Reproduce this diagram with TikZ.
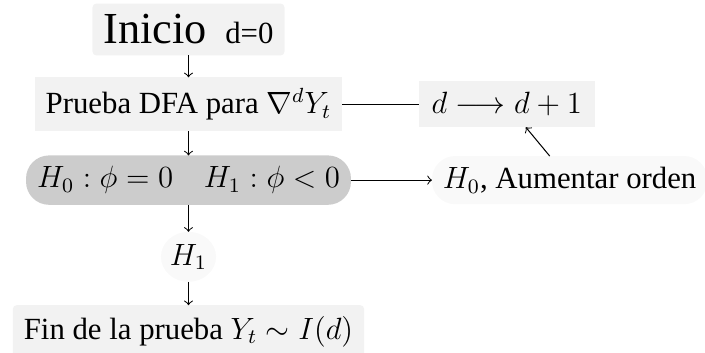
\documentclass[12pt,tikz,border=0pt]{standalone}
\usepackage{amsmath,amssymb}
\usepackage[no-math]{fontspec}
\setmainfont{Liberation Serif}
\usepackage{xcolor}
\usetikzlibrary{shapes.geometric, arrows.meta, positioning}

\begin{document}
\begin{tikzpicture}[
    x=1pt, y=1pt,
    node distance=0.3cm and 1.05cm,
    base/.style={inner sep=4.3pt, outer sep=0pt},
    proc/.style={base, rectangle, fill=gray!10},
    soft/.style={proc, rounded corners=1.5pt},
    pill/.style={base, rectangle, rounded corners=9pt},
    oval/.style={base, ellipse, fill=gray!5, inner sep=0pt, minimum width=21.5pt, minimum height=19.5pt},
    arr/.style={->, >=to, thin}
]
\useasboundingbox (-73.5,11.5) rectangle (201.4,-125.8);

% 1. Start
\node[soft] (start) {{\Large Inicio}\hspace{0.6em}d=0};

% 2. DFA test and order update
\node[proc, below=0.3cm of start] (dfa) {Prueba DFA para $\nabla^d Y_t$};
\node[proc, right=1.05cm of dfa, inner xsep=5pt] (incr) {$d \longrightarrow d+1$};

% 3. Hypotheses
\node[pill, fill=gray!40, below=0.33cm of dfa] (hyp) {$H_0:\phi=0\quad H_1:\phi<0$};
\node[pill, fill=gray!5, right=1.11cm of hyp] (raise) {$H_0$, Aumentar orden};

% 4. Result
\node[oval, below=0.37cm of hyp] (alt) {$H_1$};
\node[soft, below=0.32cm of alt] (stop) {Fin de la prueba $Y_t \sim I(d)$};

% Connections
\draw[arr] (start) -- (dfa);
\draw (dfa) -- (incr);
\draw[arr] (dfa) -- (hyp);
\draw[arr] (hyp) -- (raise);
\draw[arr] (raise) -- (incr);
\draw[arr] (hyp) -- (alt);
\draw[arr] (alt) -- (stop);

\end{tikzpicture}
\end{document}
